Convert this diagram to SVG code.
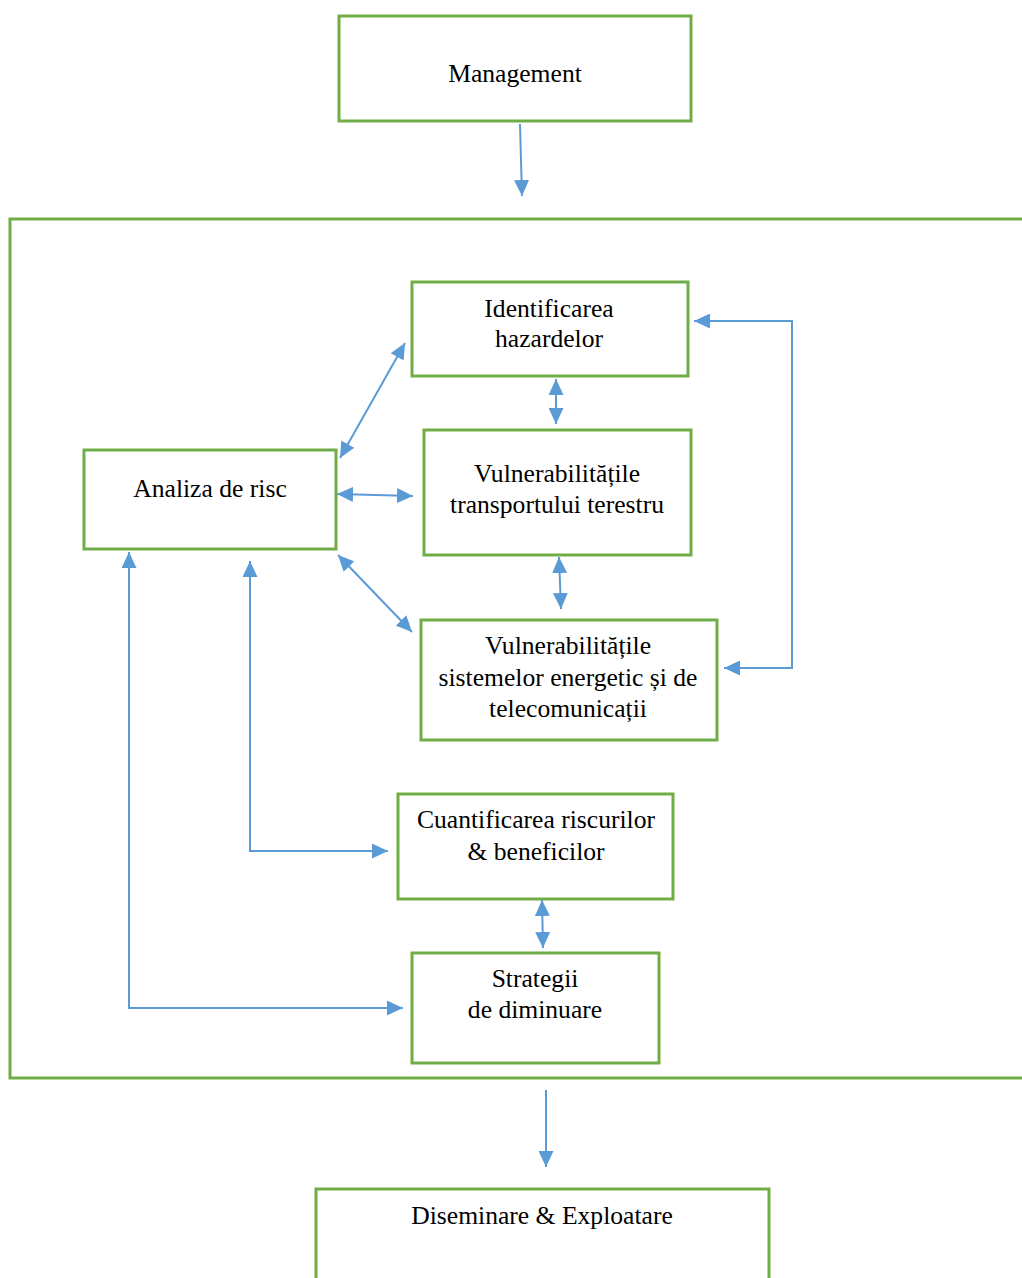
<svg xmlns="http://www.w3.org/2000/svg" width="1022" height="1278" viewBox="0 0 1022 1278">
  <style>
    .box { fill: #ffffff; stroke: #70ad47; stroke-width: 3; }
    .frame { fill: none; stroke: #70ad47; stroke-width: 3; }
    .lbl { font-size: 25.6px; fill: #000000; text-anchor: middle; }
    .wire { fill: none; stroke: #5b9bd5; stroke-width: 2; }
  </style>
  <defs>
    <marker id="head" viewBox="0 0 16 15" refX="16" refY="7.5" markerWidth="16" markerHeight="15" markerUnits="userSpaceOnUse" orient="auto-start-reverse">
      <path d="M0,0 L16,7.5 L0,15 Z" fill="#5b9bd5"/>
    </marker>
  </defs>
  <rect width="1022" height="1278" fill="#ffffff"/>

  <!-- outer container of the analysis block -->
  <path class="frame" d="M1030,219 L10,219 L10,1078 L1030,1078"/>

  <g font-family="Liberation Serif, Tinos, DejaVu Serif, serif">
  <g id="management">
    <rect class="box" x="339" y="16" width="352" height="105"/>
    <text class="lbl" x="515" y="82">Management</text>
  </g>

  <g id="identificarea">
    <rect class="box" x="412" y="282" width="276" height="94"/>
    <text class="lbl" x="549" y="317">Identificarea</text>
    <text class="lbl" x="549" y="347">hazardelor</text>
  </g>

  <g id="vuln-transport">
    <rect class="box" x="424" y="430" width="267" height="125"/>
    <text class="lbl" x="557" y="482">Vulnerabilitățile</text>
    <text class="lbl" x="557" y="513">transportului terestru</text>
  </g>

  <g id="analiza">
    <rect class="box" x="84" y="450" width="252" height="99"/>
    <text class="lbl" x="210" y="497">Analiza de risc</text>
  </g>

  <g id="vuln-sisteme">
    <rect class="box" x="421" y="620" width="296" height="120"/>
    <text class="lbl" x="568" y="654">Vulnerabilitățile</text>
    <text class="lbl" x="568" y="686">sistemelor energetic și de</text>
    <text class="lbl" x="568" y="717">telecomunicații</text>
  </g>

  <g id="cuantificarea">
    <rect class="box" x="398" y="794" width="275" height="105"/>
    <text class="lbl" x="536" y="828">Cuantificarea riscurilor</text>
    <text class="lbl" x="536" y="860">&amp; beneficilor</text>
  </g>

  <g id="strategii">
    <rect class="box" x="412" y="953" width="247" height="110"/>
    <text class="lbl" x="535" y="987">Strategii</text>
    <text class="lbl" x="535" y="1018">de diminuare</text>
  </g>

  <g id="diseminare">
    <rect class="box" x="316" y="1189" width="453" height="100"/>
    <text class="lbl" x="542" y="1224">Diseminare &amp; Exploatare</text>
  </g>
  </g>

  <g id="connectors">
    <path class="wire" d="M520,124 L522,196" marker-end="url(#head)"/>
    <path class="wire" d="M340,458 L405,343" marker-start="url(#head)" marker-end="url(#head)"/>
    <path class="wire" d="M337,494 L413,496" marker-start="url(#head)" marker-end="url(#head)"/>
    <path class="wire" d="M338,555 L412,632" marker-start="url(#head)" marker-end="url(#head)"/>
    <path class="wire" d="M556,379 L556,424" marker-start="url(#head)" marker-end="url(#head)"/>
    <path class="wire" d="M559,557 L561,609" marker-start="url(#head)" marker-end="url(#head)"/>
    <path class="wire" d="M694,321 L792,321 L792,668 L724,668" marker-start="url(#head)" marker-end="url(#head)"/>
    <path class="wire" d="M250,561 L250,851 L388,851" marker-start="url(#head)" marker-end="url(#head)"/>
    <path class="wire" d="M129,552 L129,1008 L403,1008" marker-start="url(#head)" marker-end="url(#head)"/>
    <path class="wire" d="M542,900 L543,948" marker-start="url(#head)" marker-end="url(#head)"/>
    <path class="wire" d="M546,1090 L546,1167" marker-end="url(#head)"/>
  </g>
</svg>
